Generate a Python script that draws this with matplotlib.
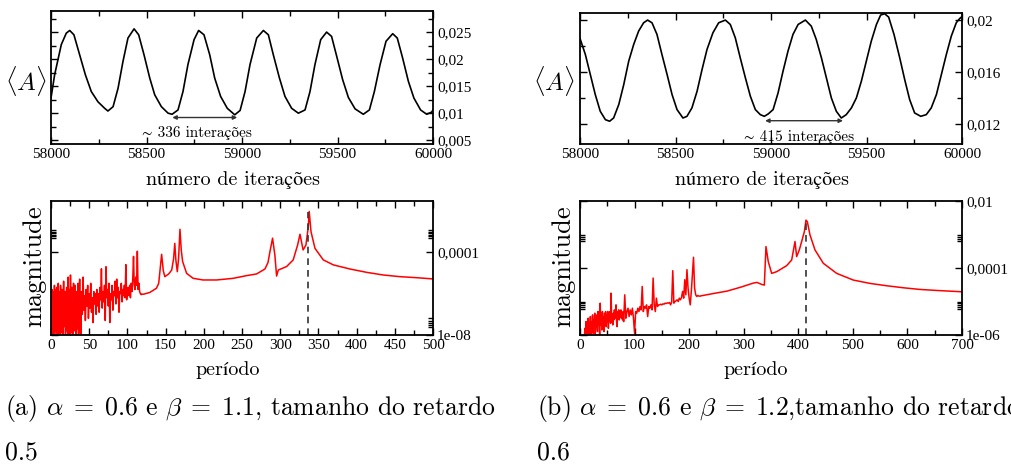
import numpy as np
import matplotlib

matplotlib.use('Agg')
import matplotlib.pyplot as plt
from matplotlib.ticker import FixedLocator, FixedFormatter, MultipleLocator, NullFormatter

plt.rcParams['mathtext.fontset'] = 'cm'
plt.rcParams['font.family'] = 'Liberation Serif'   # tick labels look Times-like
TEXT_FONT = ['cmr10', 'STIXGeneral']               # TeX look for labels, STIX for accents

# ---- (a) top: <A> vs iterations ----
a_iter = [58000, 58019, 58054, 58080, 58098, 58120, 58150, 58180, 58211, 58246,
          58281, 58298, 58325, 58351, 58377, 58403, 58435, 58459, 58487, 58517,
          58543, 58578, 58613, 58634, 58665, 58691, 58717, 58749, 58773, 58801,
          58831, 58857, 58888, 58923, 58962, 58990, 59016, 59042, 59077, 59112,
          59138, 59164, 59196, 59225, 59260, 59295, 59330, 59356, 59382, 59412,
          59443, 59469, 59496, 59527, 59557, 59592, 59635, 59667, 59693, 59723,
          59754, 59789, 59813, 59841, 59871, 59900, 59935, 59967, 59993, 60000]
a_mean = [0.0128, 0.0171, 0.0227, 0.0248, 0.0253, 0.0245, 0.0208, 0.0171, 0.0140, 0.0121,
          0.0109, 0.0104, 0.0112, 0.0146, 0.0196, 0.0239, 0.0256, 0.0245, 0.0208, 0.0165,
          0.0134, 0.0112, 0.0100, 0.0098, 0.0106, 0.0140, 0.0190, 0.0236, 0.0253, 0.0245,
          0.0208, 0.0165, 0.0131, 0.0109, 0.0097, 0.0105, 0.0140, 0.0190, 0.0239, 0.0253,
          0.0245, 0.0208, 0.0165, 0.0131, 0.0109, 0.0100, 0.0106, 0.0140, 0.0190, 0.0236,
          0.0250, 0.0242, 0.0205, 0.0162, 0.0129, 0.0108, 0.0098, 0.0106, 0.0140, 0.0190,
          0.0233, 0.0247, 0.0239, 0.0202, 0.0159, 0.0128, 0.0106, 0.0098, 0.0102, 0.0106]

# ---- (b) top ----
b_iter = [58000, 58028, 58054, 58080, 58106, 58133, 58155, 58176, 58203, 58229,
          58255, 58281, 58307, 58333, 58354, 58377, 58403, 58429, 58456, 58482,
          58508, 58539, 58560, 58586, 58613, 58639, 58665, 58696, 58726, 58761,
          58787, 58813, 58839, 58866, 58892, 58918, 58944, 58965, 58986, 59011,
          59037, 59063, 59089, 59115, 59142, 59180, 59211, 59237, 59264, 59290,
          59316, 59342, 59368, 59394, 59421, 59447, 59473, 59499, 59525, 59552,
          59574, 59595, 59616, 59644, 59674, 59700, 59726, 59752, 59784, 59813,
          59839, 59866, 59892, 59918, 59944, 59970, 59988, 60000]
b_mean = [0.01861, 0.01737, 0.01582, 0.01427, 0.01298, 0.01233, 0.01221, 0.01246, 0.01350, 0.01504,
          0.01685, 0.01814, 0.01918, 0.01982, 0.02003, 0.01982, 0.01892, 0.01737, 0.01582, 0.01427,
          0.01311, 0.01246, 0.01259, 0.01324, 0.01453, 0.01621, 0.01776, 0.01905, 0.01982, 0.02003,
          0.01969, 0.01866, 0.01711, 0.01556, 0.01414, 0.01311, 0.01272, 0.01259, 0.01278, 0.01311,
          0.01440, 0.01608, 0.01763, 0.01892, 0.01969, 0.02003, 0.01956, 0.01853, 0.01711, 0.01556,
          0.01401, 0.01298, 0.01246, 0.01272, 0.01324, 0.01401, 0.01530, 0.01685, 0.01840, 0.01969,
          0.02042, 0.02052, 0.02026, 0.01892, 0.01711, 0.01543, 0.01388, 0.01285, 0.01259, 0.01272,
          0.01324, 0.01427, 0.01582, 0.01737, 0.01879, 0.01982, 0.02015, 0.0203]

# ---- (a) spectrum, log10(magnitude) ----
# dense noise, periods 0.5, 1.0, ..., 40
a_noise1_log = [-6.2, -7.9, -5.8, -8.3, -5.9, -7.5, -6.6, -8.1, -5.6, -7.2,
                -5.8, -7.8, -6.4, -8.4, -5.7, -7.0, -6.1, -8.2, -5.5, -7.4,
                -5.9, -7.7, -6.5, -8.3, -5.6, -7.1, -6.2, -7.9, -5.8, -7.3,
                -6.0, -8.1, -5.4, -7.6, -6.2, -7.2, -5.9, -8.2, -6.3, -7.0,
                -5.7, -7.8, -6.1, -8.3, -5.2, -7.4, -6.4, -7.6, -5.8, -8.0,
                -5.1, -7.0, -6.3, -7.9, -5.7, -7.2, -6.2, -8.2, -5.5, -7.5,
                -6.0, -7.8, -5.6, -7.3, -6.4, -8.1, -5.9, -7.1, -6.2, -7.7,
                -5.5, -8.0, -6.1, -7.4, -5.3, -7.9, -6.0, -8.1, -5.9, -7.0]
# periods 41..120
a_noise2_log = [-7.0, -5.2, -6.8, -6.1, -7.3, -5.8, -6.6, -5.6, -7.2, -6.0,
                -6.7, -5.5, -6.9, -6.2, -7.4, -5.9, -6.5, -6.0, -7.0, -5.8,
                -6.6, -6.0, -6.9, -5.7, -6.3, -4.8, -6.7, -5.9, -6.4, -5.6,
                -7.3, -4.7, -6.2, -5.8, -6.6, -5.5, -7.4, -6.0, -6.3, -5.6,
                -6.8, -5.9, -6.1, -5.4, -6.5, -5.3, -6.2, -5.7, -6.9, -5.9,
                -6.0, -5.5, -6.4, -5.8, -6.1, -5.6, -6.2, -4.6, -6.3, -5.9,
                -5.7, -6.1, -5.6, -6.2, -5.5, -5.9, -5.3, -4.2, -5.6, -5.8,
                -5.2, -5.6, -3.95, -5.8, -5.5, -5.9, -6.0, -6.05, -6.02, -6.03]
a_per = [121, 129.5, 138, 141, 144.8, 147, 149, 154, 158, 160.5,
         162, 163.5, 165.3, 167, 168.8, 170.5, 172.3, 177.5, 186, 199,
         216.8, 238.6, 256, 269, 280, 284, 286.6, 290, 293, 295.3,
         297.5, 308.4, 317, 322.8, 325.9, 330, 333.7, 336.8, 338, 340.3,
         345.5, 356.4, 369.5, 391.3, 413, 435, 456.8, 478.6, 500]
a_log = [-6.03, -5.94, -5.74, -5.5, -4.10, -4.9, -5.18, -5.05, -4.86, -4.3,
         -3.57, -4.4, -4.94, -4.3, -2.89, -3.9, -4.45, -5.02, -5.26, -5.34,
         -5.34, -5.26, -5.13, -5.05, -4.81, -4.5, -3.97, -3.32, -4.13, -5.15,
         -4.86, -4.69, -4.37, -3.65, -3.13, -3.89, -3.65, -2.76, -2.03, -3.0,
         -3.81, -4.37, -4.61, -4.81, -4.97, -5.10, -5.18, -5.23, -5.29]

# ---- (b) spectrum ----
# periods 8..80
b_noise1_log = [-6.1, -5.8, -6.05, -5.6, -6.1, -5.7, -5.95, -5.5, -6.05, -5.65,
                -5.9, -5.45, -6.1, -5.6, -5.85, -5.4, -5.95, -5.55, -5.8, -5.35,
                -6.0, -5.5, -5.75, -5.4, -5.9, -5.3, -5.7, -5.5, -6.05, -5.05,
                -5.7, -5.45, -5.85, -5.3, -5.65, -5.45, -5.9, -5.35, -5.6, -5.3,
                -5.75, -5.4, -5.6, -5.3, -5.8, -5.45, -5.55, -5.3, -5.65, -4.75,
                -5.6, -5.4, -5.7, -5.35, -5.55, -5.25, -5.5, -5.4, -5.1, -5.6,
                -5.75, -5.3, -5.5, -5.25, -5.55, -5.35, -5.45, -5.25, -5.5, -5.35,
                -5.55, -5.3, -5.6]
# periods 82, 84, ..., 220
b_noise2_log = [-4.8, -5.5, -5.3, -5.2, -5.45, -5.25, -5.4, -5.2, -5.5, -5.95,
                -5.3, -5.35, -5.2, -5.3, -5.15, -5.25, -4.55, -5.3, -5.15, -5.2,
                -5.1, -5.45, -5.15, -5.2, -5.1, -5.25, -4.3, -5.1, -5.3, -4.9,
                -5.15, -5.1, -5.1, -5.08, -5.1, -5.07, -5.08, -5.05, -5.06, -5.04,
                -5.05, -5.03, -5.1, -5.02, -4.08, -5.05, -5.0, -4.98, -4.95, -5.0,
                -4.9, -4.95, -4.88, -4.7, -4.9, -4.35, -4.8, -4.05, -4.6, -4.9,
                -5.1, -4.7, -4.2, -3.68, -4.6, -4.8, -4.85, -4.82, -4.84, -4.84]
b_per = [222, 245, 269.4, 295, 317.6, 324.3, 332.9, 337.8, 340.8, 343,
         345, 351.2, 360.4, 378.7, 387.9, 394, 397, 401.9, 406.2, 411.1,
         414.1, 416.6, 421.4, 430.6, 445.9, 470.3, 500.8, 531.4, 561.9, 592.5,
         623, 653.6, 700]
b_log = [-4.83, -4.76, -4.69, -4.57, -4.45, -4.43, -4.49, -4.51, -3.36, -3.6,
         -3.81, -4.16, -4.11, -3.93, -3.76, -3.21, -3.66, -3.46, -3.21, -2.92,
         -2.57, -2.62, -3.01, -3.46, -3.86, -4.16, -4.36, -4.46, -4.53, -4.59,
         -4.64, -4.67, -4.71]

peak_a, peak_a_top = 337, -2.05
peak_b, peak_b_top = 415, -2.6


def style(ax):
    for s in ax.spines.values():
        s.set_linewidth(1.3)
    ax.tick_params(which='both', direction='in', top=True, bottom=True, left=True, right=True,
                   labelleft=False, labelright=True, labelsize=11, pad=3, width=1.0)
    ax.tick_params(which='major', length=5)
    ax.tick_params(which='minor', length=3.5)


fig = plt.figure(figsize=(10.11, 4.68), dpi=100)

W = 382 / 1011
ax1 = fig.add_axes([51 / 1011, 1 - 144 / 468, W, 133 / 468])
ax2 = fig.add_axes([580 / 1011, 1 - 144 / 468, W, 131.3 / 468])
ax3 = fig.add_axes([51 / 1011, 1 - 335 / 468, W, 134 / 468])
ax4 = fig.add_axes([580 / 1011, 1 - 335 / 468, W, 134 / 468])

arrow = dict(arrowstyle='<|-|>', color='#333333', lw=1.0,
             shrinkA=0, shrinkB=0, mutation_scale=6)

# top left
ax1.plot(a_iter, a_mean, color='k', lw=1.2)
ax1.set_xlim(58000, 60000)
ax1.set_ylim(0.0043, 0.0289)
ax1.xaxis.set_major_locator(MultipleLocator(500))
ax1.xaxis.set_minor_locator(MultipleLocator(250))
ax1.yaxis.set_major_locator(FixedLocator([0.005, 0.01, 0.015, 0.02, 0.025]))
ax1.yaxis.set_major_formatter(FixedFormatter(['0,005', '0,01', '0,015', '0,02', '0,025']))
ax1.yaxis.set_minor_locator(MultipleLocator(0.0025))
style(ax1)
ax1.annotate('', xy=(58635, 0.0092), xytext=(58975, 0.0092), arrowprops=arrow)
ax1.text(58764, 0.0063, '\u223c 336 interações', family=TEXT_FONT, fontsize=11,
         ha='center', va='center')

# top right
ax2.plot(b_iter, b_mean, color='k', lw=1.2)
ax2.set_xlim(58000, 60000)
ax2.set_ylim(0.01045, 0.0206)
ax2.xaxis.set_major_locator(MultipleLocator(500))
ax2.xaxis.set_minor_locator(MultipleLocator(250))
ax2.yaxis.set_major_locator(FixedLocator([0.012, 0.016, 0.02]))
ax2.yaxis.set_major_formatter(FixedFormatter(['0,012', '0,016', '0,02']))
ax2.yaxis.set_minor_locator(MultipleLocator(0.002))
style(ax2)
ax2.annotate('', xy=(58969, 0.01225), xytext=(59377, 0.01225), arrowprops=arrow)
ax2.text(59147, 0.01101, '\u223c 415 interações', family=TEXT_FONT, fontsize=11,
         ha='center', va='center')

# bottom left spectrum
xa = np.concatenate([0.5 + 0.5 * np.arange(len(a_noise1_log)),
                     41 + np.arange(len(a_noise2_log)), a_per])
ya = 10 ** np.concatenate([a_noise1_log, a_noise2_log, a_log])
ax3.plot(xa, ya, color='red', lw=1.1)
ax3.plot([peak_a, peak_a], [1e-8, 10 ** peak_a_top], color='#333333', lw=1.2, dashes=(4, 3))
ax3.set_yscale('log')
ax3.set_xlim(0, 500)
ax3.set_ylim(1e-8, 0.03)
ax3.xaxis.set_major_locator(MultipleLocator(50))
ax3.xaxis.set_minor_locator(MultipleLocator(25))
ax3.yaxis.set_major_locator(FixedLocator([1e-8, 1e-4]))
ax3.yaxis.set_major_formatter(FixedFormatter(['1e-08', '0,0001']))
ax3.yaxis.set_minor_locator(FixedLocator([2.5e-8, 3e-8, 4e-8, 5e-8, 6.5e-8,
                                          5e-4, 6e-4, 7e-4, 8.5e-4, 1e-3, 1.2e-3]))
ax3.yaxis.set_minor_formatter(NullFormatter())
style(ax3)

# bottom right spectrum
xb = np.concatenate([8 + np.arange(len(b_noise1_log)),
                     82 + 2 * np.arange(len(b_noise2_log)), b_per])
yb = 10 ** np.concatenate([b_noise1_log, b_noise2_log, b_log])
ax4.plot(xb, yb, color='red', lw=1.1)
ax4.plot([peak_b, peak_b], [1e-6, 10 ** peak_b_top], color='#333333', lw=1.2, dashes=(4, 3))
ax4.set_yscale('log')
ax4.set_xlim(0, 700)
ax4.set_ylim(1e-6, 1e-2)
ax4.xaxis.set_major_locator(MultipleLocator(100))
ax4.xaxis.set_minor_locator(MultipleLocator(50))
ax4.yaxis.set_major_locator(FixedLocator([1e-6, 1e-4, 1e-2]))
ax4.yaxis.set_major_formatter(FixedFormatter(['1e-06', '0,0001', '0,01']))
ax4.yaxis.set_minor_locator(FixedLocator([6e-6, 7e-6, 8e-6, 9e-6, 1e-5,
                                          6.5e-4, 7.5e-4, 8.5e-4, 1e-3]))
ax4.yaxis.set_minor_formatter(NullFormatter())
style(ax4)

# axis titles, placed like the original page
for cx in (26, 554):
    fig.text(cx / 1011, 1 - 81 / 468, r'$\langle A\rangle$', fontsize=18, ha='center', va='center')
for cx in (34, 563):
    fig.text(cx / 1011, 1 - 266 / 468, 'magnitude', family=TEXT_FONT, fontsize=19,
             rotation=90, ha='center', va='center')
for cx in (233, 762):
    fig.text(cx / 1011, 1 - 180 / 468, 'número de iterações', family=TEXT_FONT, fontsize=14.5,
             ha='center', va='center')
for cx in (228, 756):
    fig.text(cx / 1011, 1 - 370 / 468, 'período', family=TEXT_FONT, fontsize=14.5,
             ha='center', va='center')

# captions; the (b) line runs past the right edge, as on the original page
fig.text(5 / 1011, 1 - 408 / 468, r'(a) $\alpha\;=\;0.6$ e $\beta\;=\;1.1$, tamanho do retardo',
         family=TEXT_FONT, fontsize=18.5, ha='left', va='center')
fig.text(5 / 1011, 1 - 453 / 468, '0.5', family=TEXT_FONT, fontsize=18.5, ha='left', va='center')
fig.text(537 / 1011, 1 - 408 / 468, r'(b) $\alpha\;=\;0.6$ e $\beta\;=\;1.2$,tamanho do retardo',
         family=TEXT_FONT, fontsize=18.5, ha='left', va='center')
fig.text(537 / 1011, 1 - 453 / 468, '0.6', family=TEXT_FONT, fontsize=18.5, ha='left', va='center')

fig.savefig('out.png', dpi=100)
